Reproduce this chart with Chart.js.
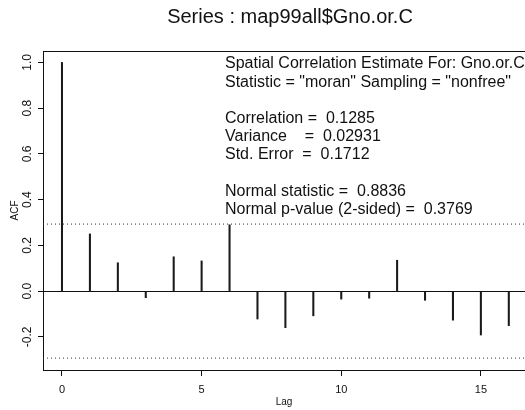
<!DOCTYPE html>
<html lang="en">
<head>
    <meta charset="UTF-8">
    <title>Spatial Correlogram</title>
    <script src="https://cdn.jsdelivr.net/npm/chart.js"></script>
    <style>
        body { margin: 0; background: #fff; overflow: hidden; }
        #acf-chart { display: block; }
    </style>
</head>
<body>
    <canvas id="acf-chart" width="525" height="410"></canvas>

    <script>
    // Correlogram values
    const lags = [0, 1, 2, 3, 4, 5, 6, 7, 8, 9, 10, 11, 12, 13, 14, 15, 16];
    const acfValues = [1.0, 0.25, 0.124, -0.029, 0.15, 0.132, 0.29, -0.122, -0.16, -0.108,
                       -0.035, -0.031, 0.135, -0.04, -0.127, -0.192, -0.151];
    const boundLags = [-0.68, 16.58];
    const upperBound = [0.293, 0.293];
    const lowerBound = [-0.293, -0.293];

    const xTicks = [0, 5, 10, 15];
    const yTicks = [-0.2, 0.0, 0.2, 0.4, 0.6, 0.8, 1.0];

    const chartTitle = "Series : map99all$Gno.or.C";
    const infoLines = [
        'Spatial Correlation Estimate For: Gno.or.C',
        'Statistic = "moran" Sampling = "nonfree"',
        '',
        'Correlation =  0.1285',
        'Variance    =  0.02931',
        'Std. Error  =  0.1712',
        '',
        'Normal statistic =  0.8836',
        'Normal p-value (2-sided) =  0.3769'
    ];

    const FONT = '"Liberation Sans", Arial, sans-serif';

    // Draws title, top frame line, rotated y labels and the text block
    const decorPlugin = {
        id: 'decor',
        afterDraw(chart) {
            const ctx = chart.ctx;
            const area = chart.chartArea;
            const yScale = chart.scales.y;
            ctx.save();

            // top frame line
            ctx.strokeStyle = '#111';
            ctx.lineWidth = 1;
            ctx.beginPath();
            ctx.moveTo(area.left, area.top + 0.5);
            ctx.lineTo(area.right, area.top + 0.5);
            ctx.stroke();

            ctx.fillStyle = '#111';
            ctx.textBaseline = 'middle';

            // title
            ctx.font = '20px ' + FONT;
            ctx.textAlign = 'center';
            ctx.fillText(chartTitle, 290, 17);

            // y tick labels, rotated like S-PLUS does it
            ctx.font = '12px ' + FONT;
            yTicks.forEach(v => {
                const py = yScale.getPixelForValue(v);
                ctx.save();
                ctx.translate(28, py);
                ctx.rotate(-Math.PI / 2);
                ctx.fillText(v.toFixed(1), 0, 0);
                ctx.restore();
            });

            // axis titles
            ctx.save();
            ctx.translate(15, (area.top + area.bottom) / 2);
            ctx.rotate(-Math.PI / 2);
            ctx.font = '10px ' + FONT;
            ctx.fillText('ACF', 0, 0);
            ctx.restore();

            ctx.font = '10px ' + FONT;
            ctx.fillText('Lag', (area.left + area.right) / 2, 402);

            // statistics text block
            ctx.font = '16px ' + FONT;
            ctx.textAlign = 'left';
            infoLines.forEach((line, i) => {
                if (line) ctx.fillText(line, 225, 64 + i * 18.2);
            });

            ctx.restore();
        }
    };

    new Chart(document.getElementById('acf-chart'), {
        type: 'bar',
        data: {
            datasets: [
                {
                    label: 'ACF',
                    data: lags.map((l, i) => ({ x: l, y: acfValues[i] })),
                    backgroundColor: '#1a1a1a',
                    borderWidth: 0,
                    barThickness: 1.4,
                    grouped: false
                },
                {
                    type: 'line',
                    label: 'Upper',
                    data: boundLags.map((l, i) => ({ x: l, y: upperBound[i] })),
                    borderColor: '#333',
                    borderWidth: 1,
                    borderDash: [1, 3],
                    pointRadius: 0,
                    fill: false
                },
                {
                    type: 'line',
                    label: 'Lower',
                    data: boundLags.map((l, i) => ({ x: l, y: lowerBound[i] })),
                    borderColor: '#333',
                    borderWidth: 1,
                    borderDash: [1, 3],
                    pointRadius: 0,
                    fill: false
                }
            ]
        },
        options: {
            responsive: false,
            animation: false,
            layout: { padding: { top: 51, left: 0, right: 0, bottom: 0 } },
            plugins: {
                legend: { display: false },
                tooltip: { enabled: false },
                title: { display: false }
            },
            scales: {
                x: {
                    type: 'linear',
                    offset: false,
                    min: boundLags[0],
                    max: boundLags[1],
                    afterBuildTicks: scale => { scale.ticks = xTicks.map(v => ({ value: v })); },
                    afterFit: scale => { scale.height = 40; },
                    ticks: {
                        color: '#111',
                        font: { size: 11, family: FONT },
                        padding: 7,
                        callback: v => String(v)
                    },
                    grid: {
                        offset: false,
                        drawOnChartArea: false,
                        tickLength: 6,
                        tickColor: '#111'
                    },
                    border: { color: '#111', width: 1 }
                },
                y: {
                    min: -0.345,
                    max: 1.05,
                    afterBuildTicks: scale => { scale.ticks = yTicks.map(v => ({ value: v })); },
                    afterFit: scale => { scale.width = 43; },
                    ticks: { display: false },
                    grid: {
                        color: ctx => (ctx.tick && Math.abs(ctx.tick.value) < 1e-9) ? '#111' : 'rgba(0,0,0,0)',
                        tickColor: '#111',
                        tickLength: 5,
                        lineWidth: 1
                    },
                    border: { color: '#111', width: 1 }
                }
            }
        },
        plugins: [decorPlugin]
    });
    </script>
</body>
</html>
